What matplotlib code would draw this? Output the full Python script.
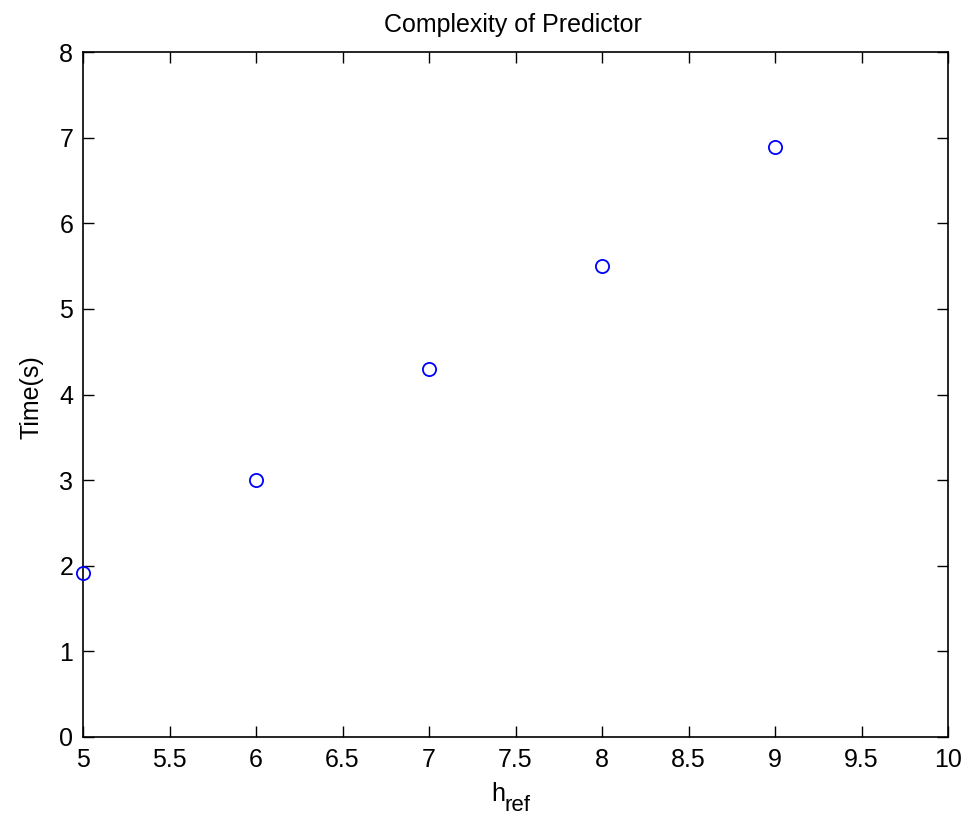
import matplotlib
matplotlib.use("Agg")
import matplotlib.pyplot as plt

plt.rcParams['font.family'] = ["Liberation Sans", "DejaVu Sans"]

h_ref = [5, 6, 7, 8, 9]
time_s = [1.91, 3.0, 4.3, 5.5, 6.89]
xticks = [5, 5.5, 6, 6.5, 7, 7.5, 8, 8.5, 9, 9.5, 10]
xticklabels = ["5", "5.5", "6", "6.5", "7", "7.5", "8", "8.5", "9", "9.5", "10"]
yticks = [0, 1, 2, 3, 4, 5, 6, 7, 8]

W, H = 975, 819
FS = 18
fig = plt.figure(figsize=(9.75, 8.19), dpi=100)
ax = fig.add_axes([83 / W, 1 - 737 / H, 865 / W, 685 / H])
ax.plot(h_ref, time_s, linestyle='none', marker='o', markersize=9.5,
        markerfacecolor='none', markeredgecolor='#0000ff', markeredgewidth=1.3,
        clip_on=False, zorder=3)
ax.set_xlim(5, 10)
ax.set_ylim(0, 8)
ax.set_xticks(xticks)
ax.set_xticklabels(xticklabels)
ax.set_yticks(yticks)
ax.tick_params(direction='in', length=8, width=1, top=True, right=True,
               labelsize=FS, colors='black')
ax.tick_params(axis='x', pad=8)
ax.tick_params(axis='y', pad=7)
for s in ax.spines.values():
    s.set_linewidth(1.2)
fig.text(513 / W, 1 - 32 / H, "Complexity of Predictor", fontsize=FS,
         ha='center', va='baseline')
fig.text(32 / W, 1 - 397 / H, "Time(s)", fontsize=FS, rotation=90,
         ha='center', va='center')
fig.text(491 / W, 1 - 801 / H, "h", fontsize=FS, ha='left', va='baseline')
fig.text(504 / W, 1 - 811 / H, "ref", fontsize=16, ha='left', va='baseline')
fig.savefig("out.png", dpi=100)
